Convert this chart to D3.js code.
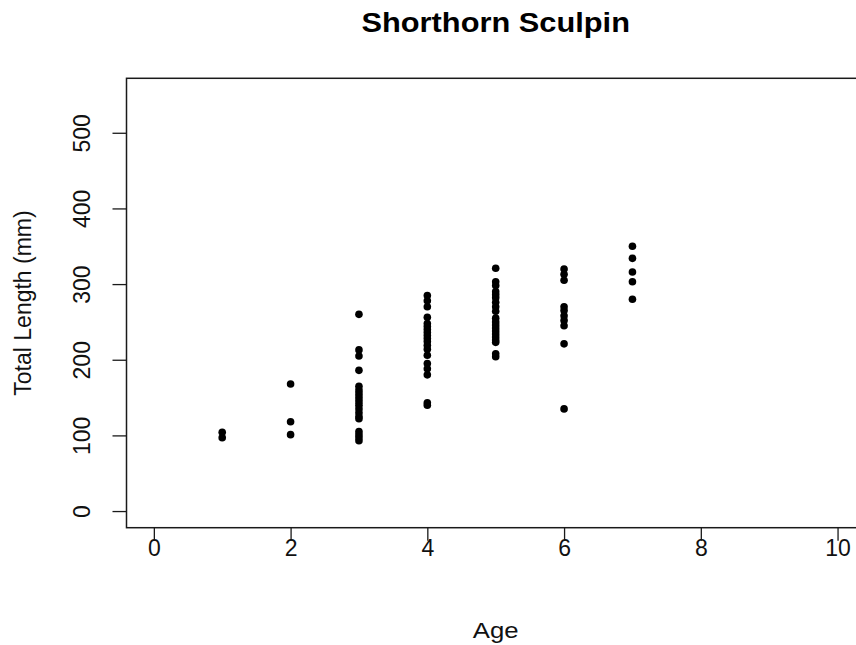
<!DOCTYPE html>
<html>
<head>
<meta charset="utf-8">
<script src="https://cdn.jsdelivr.net/npm/d3@7"></script>
<style>
  html, body { margin: 0; padding: 0; background: #fff; }
  svg { display: block; font-family: Arial, "Liberation Sans", sans-serif; }
</style>
</head>
<body>
<svg id="chart" width="856" height="645"></svg>
<script>
// Shorthorn sculpin: total length (mm) by age (years)
const ages1 = [104, 97];
const ages2 = [168, 118, 101];
const ages3 = [260, 213, 205, 186, 165, 160, 156, 152, 148, 144, 140, 135, 130, 125, 122, 105, 101, 97, 93];
const ages4 = [285, 278, 270, 256, 248, 244, 240, 236, 232, 228, 224, 219, 214, 206, 195, 188, 180, 143, 140];
const ages5 = [321, 303, 298, 290, 286, 282, 276, 270, 264, 255, 250, 246, 242, 238, 234, 230, 226, 223, 208, 204];
const ages6 = [320, 313, 305, 270, 265, 258, 252, 245, 221, 135];
const ages7 = [350, 334, 316, 303, 280];

const ageGroups = [1, 2, 3, 4, 5, 6, 7];
const lengthsByAge = [ages1, ages2, ages3, ages4, ages5, ages6, ages7];

const xTicks = [0, 2, 4, 6, 8, 10];
const yTicks = [0, 100, 200, 300, 400, 500];
const xLimits = [0, 10];
const yLimits = [0, 550];

const points = [];
ageGroups.forEach((a, i) => lengthsByAge[i].forEach(v => points.push({ age: a, len: v })));

const svg = d3.select("#chart");
const box = { left: 126.5, right: 864.9, top: 78.3, bottom: 527.7 };

// 4% padding on each side of the limits, as in base graphics
const pad = l => [l[0] - 0.04 * (l[1] - l[0]), l[1] + 0.04 * (l[1] - l[0])];
const x = d3.scaleLinear().domain(pad(xLimits)).range([box.left, box.right]);
const y = d3.scaleLinear().domain(pad(yLimits)).range([box.bottom, box.top]);

const ink = "#1a1a1a";
const wide = 1.12; // horizontal stretch for horizontal captions

// plot frame
svg.append("rect")
  .attr("x", box.left).attr("y", box.top)
  .attr("width", box.right - box.left).attr("height", box.bottom - box.top)
  .attr("fill", "none").attr("stroke", ink).attr("stroke-width", 1.5);

// x axis
const gx = svg.append("g")
  .attr("transform", `translate(0,${box.bottom})`)
  .call(d3.axisBottom(x).tickValues(xTicks).tickSize(13).tickFormat(d3.format("d")));
gx.select(".domain").remove();
gx.selectAll(".tick line").attr("stroke", ink).attr("stroke-width", 1.3);
gx.selectAll(".tick text")
  .attr("fill", "#111").style("font-size", "23px")
  .attr("y", 28).attr("dy", null);

// y axis, labels rotated parallel to the axis
const gy = svg.append("g")
  .attr("transform", `translate(${box.left},0)`)
  .call(d3.axisLeft(y).tickValues(yTicks).tickSize(14).tickFormat(d3.format("d")));
gy.select(".domain").remove();
gy.selectAll(".tick line").attr("stroke", ink).attr("stroke-width", 1.3);
gy.selectAll(".tick text")
  .attr("fill", "#111").style("font-size", "23px")
  .attr("x", null)
  .attr("text-anchor", "middle")
  .attr("transform", "translate(-45,0) rotate(-90)")
  .attr("dy", "0.36em");

// points
svg.append("g").selectAll("circle")
  .data(points)
  .join("circle")
  .attr("cx", d => x(d.age))
  .attr("cy", d => y(d.len))
  .attr("r", 3.8)
  .attr("fill", "#000");

// titles
const cx = (box.left + box.right) / 2;
svg.append("text")
  .attr("transform", `translate(${cx},32) scale(${wide},1)`)
  .attr("text-anchor", "middle")
  .style("font-size", "27.5px").style("font-weight", "bold")
  .text("Shorthorn Sculpin");

svg.append("text")
  .attr("transform", `translate(${cx},638) scale(${wide},1)`)
  .attr("text-anchor", "middle")
  .style("font-size", "23px").attr("fill", "#111")
  .text("Age");

svg.append("text")
  .attr("transform", `translate(31,${(box.top + box.bottom) / 2}) rotate(-90)`)
  .attr("text-anchor", "middle")
  .style("font-size", "23px").attr("fill", "#111")
  .text("Total Length (mm)");
</script>
</body>
</html>
